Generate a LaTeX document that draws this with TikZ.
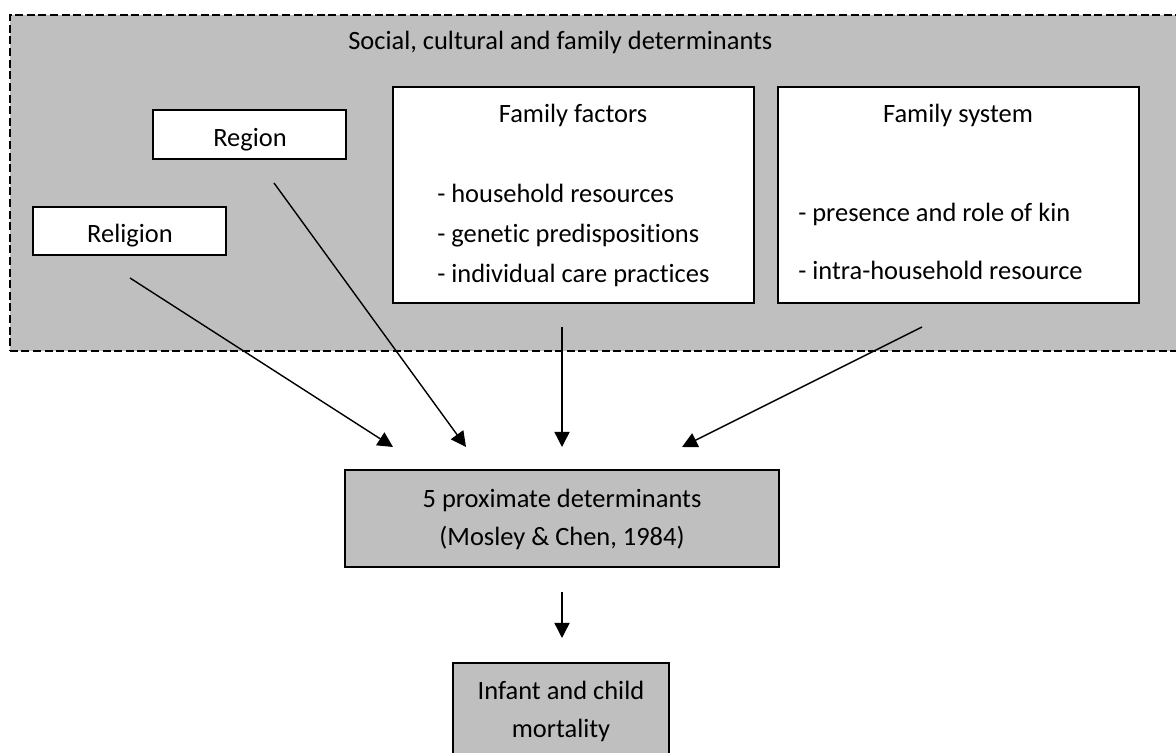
\documentclass[tikz,border=0pt]{standalone}
\usepackage{fontspec}
\setmainfont{Carlito}[RawFeature=-liga]
\usetikzlibrary{arrows.meta}
\usetikzlibrary{positioning}

\tikzset{
  whitebox/.style={draw, fill=white, line width=1.1pt, inner sep=0pt},
  greybox/.style={draw, fill=black!25, line width=1.1pt, inner sep=0pt},
  txt/.style={anchor=base, inner sep=0pt, font=\fontsize{18.8}{22}\selectfont},
  ltxt/.style={txt, anchor=base west},
  arr/.style={-{Triangle[length=0.38cm,width=0.38cm]}, line width=1pt}
}

\begin{document}
\begin{tikzpicture}[x=0.025cm, y=-0.025cm]
  \useasboundingbox (0,0) rectangle (1176,753);
  \clip (0,0) rectangle (1176,753);

  % outer context
  \node[greybox, line width=1pt, dash pattern=on 0.2cm off 0.09cm, minimum width=29.75cm, minimum height=8.4cm] (context) at (605,183) {};
  \node[ltxt] (context-txt) at (348,50) {Social, cultural and family determinants};

  % boxes
  \node[whitebox, minimum width=4.825cm, minimum height=1.2cm]   (religion)  at (129.5,231)   {};
  \node[whitebox, minimum width=4.825cm, minimum height=1.225cm] (region)    at (249.5,134.5) {};
  \node[whitebox, minimum width=9.025cm, minimum height=5.4cm]   (factors)   at (573.5,195)   {};
  \node[whitebox, minimum width=9.025cm, minimum height=5.4cm]   (system)    at (958.5,195)   {};
  \node[greybox,  minimum width=10.85cm, minimum height=2.425cm] (proximate) at (562,518.5)   {};
  \node[greybox,  minimum width=5.4cm,   minimum height=3.5cm]   (mortality) at (561,733)     {};

  % texts
  \node[txt]  (religion-txt) at (130,243) {Religion};
  \node[txt]  (region-txt)   at (250,147) {Region};
  \node[txt]  (factors-txt)  at (573,123) {Family factors};
  \node[ltxt] (factors-a)    at (437,203) {- household resources};
  \node[ltxt] (factors-b)    at (437,243) {- genetic predispositions};
  \node[ltxt] (factors-c)    at (437,283) {- individual care practices};
  \node[txt]  (system-txt)   at (958,123) {Family system};
  \node[ltxt] (system-a)     at (798,222) {- presence and role of kin};
  \node[ltxt] (system-b)     at (798,280) {- intra-household resource};
  \node[txt]  (proximate-a)  at (562,507) {5 proximate determinants};
  \node[txt]  (proximate-b)  at (562,545) {(Mosley \& Chen, 1984)};
  \node[txt]  (mortality-a)  at (561,699) {Infant and child};
  \node[txt]  (mortality-b)  at (561,737) {mortality};

  % arrow ends
  \coordinate (religion-out) at (130,278);
  \coordinate (region-out)   at (274,183);
  \coordinate (factors-out)  at (562,327);
  \coordinate (system-out)   at (922,327);
  \coordinate (in-a) at (393,447);
  \coordinate (in-b) at (466,447);
  \coordinate (in-c) at (562,447);
  \coordinate (in-d) at (682,447);
  \coordinate (proximate-out) at (562,592);
  \coordinate (mortality-in)  at (562,638);

  \draw[arr] (religion-out) -- (in-a);
  \draw[arr] (region-out) -- (in-b);
  \draw[arr] (factors-out) -- (in-c);
  \draw[arr] (system-out) -- (in-d);
  \draw[arr] (proximate-out) -- (mortality-in);
\end{tikzpicture}
\end{document}
